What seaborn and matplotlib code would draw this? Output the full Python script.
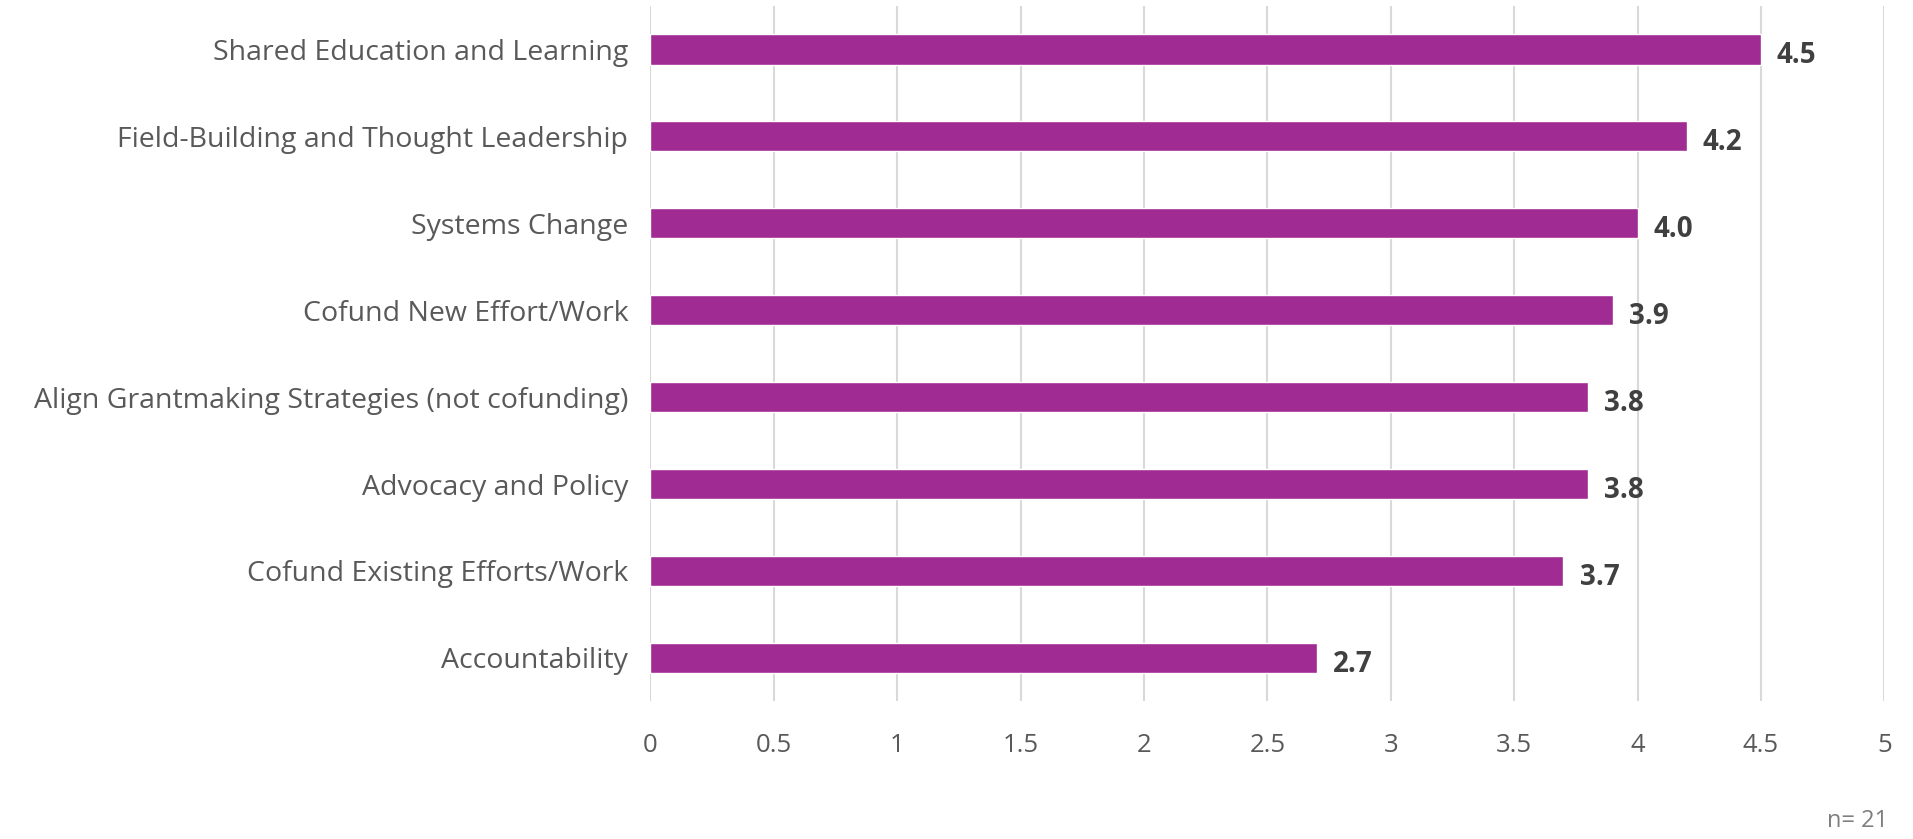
import numpy as np
import pandas as pd
import matplotlib
matplotlib.use("Agg")
import matplotlib.pyplot as plt
import seaborn as sns

categories = [
    "Shared Education and Learning",
    "Field-Building and Thought Leadership",
    "Systems Change",
    "Cofund New Effort/Work",
    "Align Grantmaking Strategies (not cofunding)",
    "Advocacy and Policy",
    "Cofund Existing Efforts/Work",
    "Accountability",
]
scores = [4.5, 4.2, 4.0, 3.9, 3.8, 3.8, 3.7, 2.7]
x_ticks = [0, 0.5, 1, 1.5, 2, 2.5, 3, 3.5, 4, 4.5, 5]
note = "n= 21"

sns.set_style("white")
plt.rcParams["font.family"] = ["Open Sans", "DejaVu Sans"]

df = pd.DataFrame({"category": categories, "score": scores})

fig = plt.figure(figsize=(19.13, 8.39), dpi=100)
ax = fig.add_axes([0.340, 0.164, 0.645, 0.829])

sns.barplot(data=df, y="category", x="score", orient="h", color="#A02B93",
            saturation=1, width=0.35, ax=ax, zorder=3)

ax.set_xlim(0, 5)
ax.set_ylim(7.5, -0.5)
ax.set_xticks(x_ticks)
ax.set_xticklabels([f"{t:g}" for t in x_ticks], fontsize=18.5, color="#595959")
ax.tick_params(axis="x", length=0, pad=23)
ax.tick_params(axis="y", length=0, pad=16, labelsize=20.5, labelcolor="#595959")
ax.set_xlabel("")
ax.set_ylabel("")
ax.grid(axis="x", color="#D9D9D9", linewidth=1.5, zorder=0)
ax.grid(axis="y", visible=False)
for s in ax.spines.values():
    s.set_visible(False)

# value labels just right of each bar
for i, v in enumerate(scores):
    ax.text(v + 0.065, i + 0.07, f"{v:.1f}", va="center", ha="left",
            fontsize=20, fontweight="bold", color="#404040")

fig.text(0.987, 0.022, note, ha="right", va="center", fontsize=17, color="#7F7F7F")

fig.savefig("out.png", dpi=100)
plt.close()
